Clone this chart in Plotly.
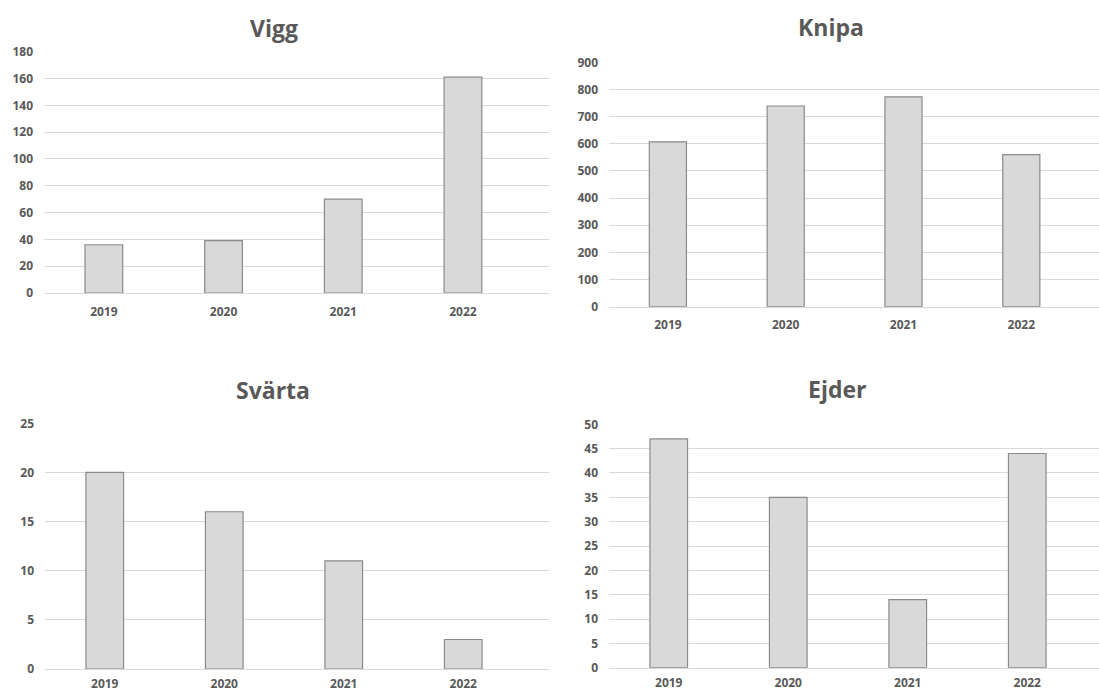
import plotly.graph_objects as go

W, H = 1099, 691

years = ["2019", "2020", "2021", "2022"]
vigg = [36, 39, 70, 161]
knipa = [607, 739, 773, 560]
svarta = [20, 16, 11, 3]
ejder = [47, 35, 14, 44]

titles = ["Vigg", "Knipa", "Svärta", "Ejder"]
series = [vigg, knipa, svarta, ejder]
y_max = [180, 900, 25, 50]
y_dtick = [20, 100, 5, 5]

# layout geometry in pixels: (left, right, bottom(y0), top(ymax)), category width
panels = [
    dict(l=44, r=549, b=293.0, t=51.7, cw=119.7, tx=274, ty=28, xs=7),
    dict(l=609, r=1099, b=306.7, t=62.3, cw=117.8, tx=831, ty=27, xs=7),
    dict(l=45, r=549, b=669.0, t=423.3, cw=119.5, tx=273, ty=390, xs=3),
    dict(l=609, r=1099, b=667.7, t=424.3, cw=119.5, tx=837, ty=389, xs=4),
]

FONT = "Open Sans"
TXT = "#595959"
GRID = "#d9d9d9"

fig = go.Figure()
annotations = []
for i, (p, ys) in enumerate(zip(panels, series)):
    n = "" if i == 0 else str(i + 1)
    fig.add_trace(go.Bar(
        x=years, y=ys, width=0.315,
        marker=dict(color="#d9d9d9", line=dict(color="#8a8a8a", width=1.2)),
        xaxis="x" + n, yaxis="y" + n, showlegend=False,
    ))
    span = (p["r"] - p["l"]) / p["cw"]
    fig.layout["xaxis" + n] = dict(
        domain=[p["l"] / W, p["r"] / W], anchor="y" + n,
        type="category", range=[-0.5, -0.5 + span],
        showgrid=False, showline=True, linecolor=GRID, linewidth=1.3,
        ticks="", ticklabelstandoff=p["xs"], automargin=False,
        tickfont=dict(family=FONT, size=12, color=TXT, weight="bold"),
        fixedrange=True,
    )
    fig.layout["yaxis" + n] = dict(
        domain=[1 - p["b"] / H, 1 - p["t"] / H], anchor="x" + n,
        range=[0, y_max[i]], dtick=y_dtick[i], tick0=0,
        showgrid=True, gridcolor=GRID, gridwidth=1.3,
        zeroline=False, showline=False, ticks="", ticklabelstandoff=10,
        automargin=False,
        tickfont=dict(family=FONT, size=12, color=TXT, weight="bold"),
        fixedrange=True,
    )
    annotations.append(dict(
        text="<b>%s</b>" % titles[i], x=p["tx"] / W, y=1 - p["ty"] / H,
        xref="paper", yref="paper", xanchor="center", yanchor="middle",
        showarrow=False, font=dict(family=FONT, size=23, color=TXT),
    ))

fig.update_layout(
    width=W, height=H, margin=dict(l=0, r=0, t=0, b=0, autoexpand=False),
    paper_bgcolor="white", plot_bgcolor="white",
    annotations=annotations, bargap=0.68,
)

fig.write_html("out.html")
